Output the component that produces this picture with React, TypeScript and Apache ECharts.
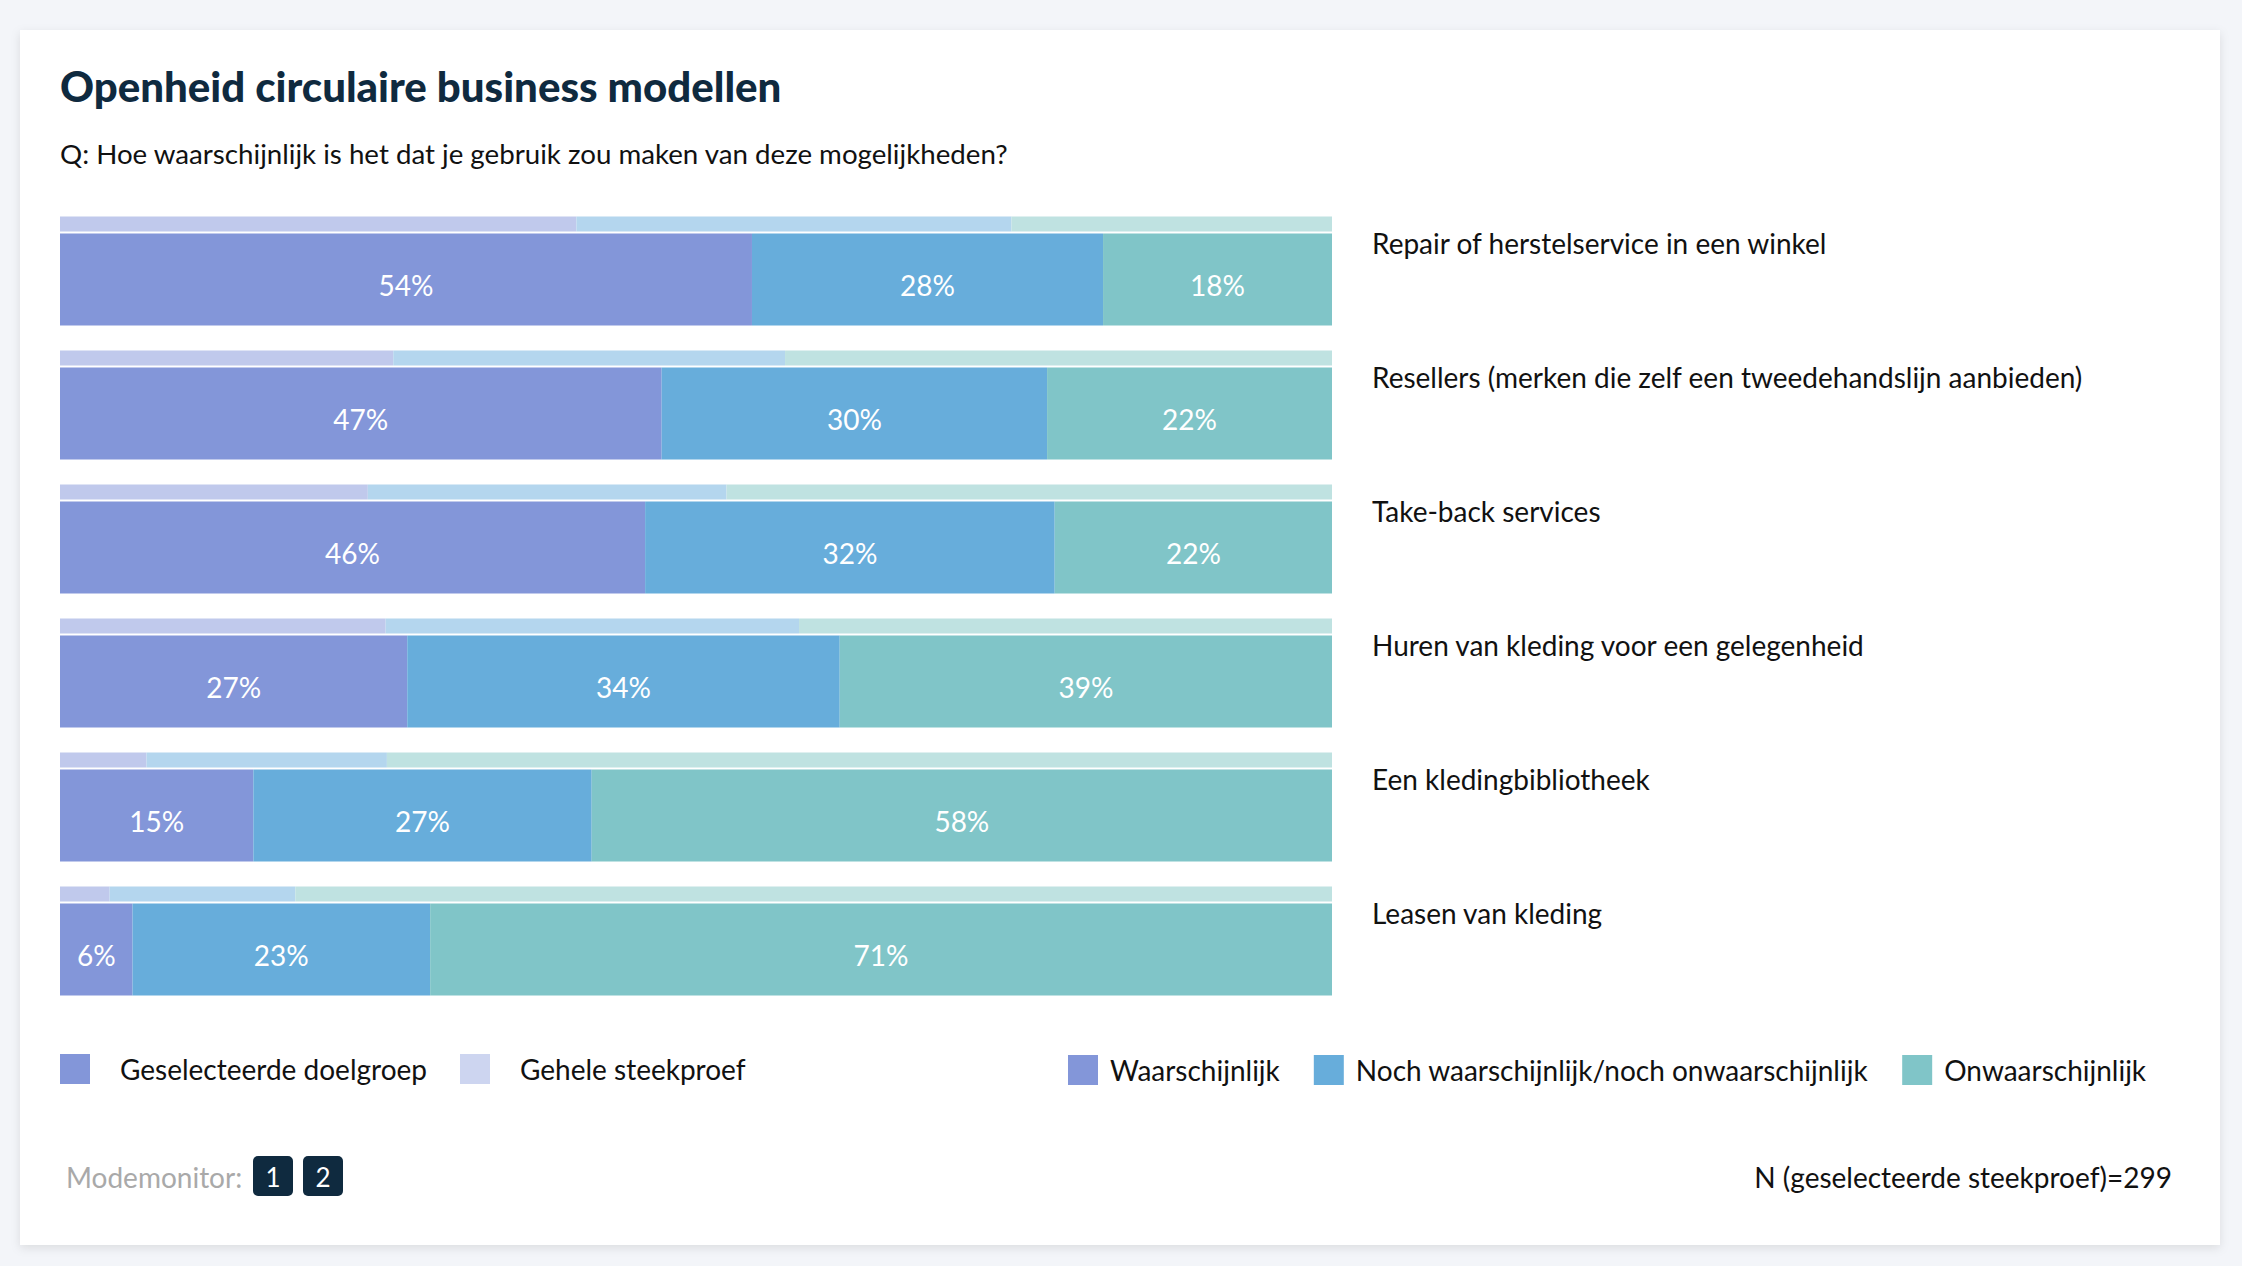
import React, { useEffect, useRef } from "react";
import * as echarts from "echarts";

const categories = [
  "Repair of herstelservice in een winkel",
  "Resellers (merken die zelf een tweedehandslijn aanbieden)",
  "Take-back services",
  "Huren van kleding voor een gelegenheid",
  "Een kledingbibliotheek",
  "Leasen van kleding",
];

const responseNames = [
  "Waarschijnlijk",
  "Noch waarschijnlijk/noch onwaarschijnlijk",
  "Onwaarschijnlijk",
];

// Geselecteerde doelgroep (main bars)
const doelWaarschijnlijk = [54.4, 47.3, 46.0, 27.3, 15.2, 5.7];
const doelNoch = [27.6, 30.3, 32.2, 34.0, 26.6, 23.4];
const doelOnwaarschijnlijk = [18.0, 22.4, 21.8, 38.7, 58.2, 70.9];

// Gehele steekproef (thin bars)
const geheelWaarschijnlijk = [40.6, 26.2, 24.2, 25.6, 6.8, 3.9];
const geheelNoch = [34.2, 30.8, 28.2, 32.5, 18.9, 14.6];
const geheelOnwaarschijnlijk = [25.2, 43.0, 47.6, 41.9, 74.3, 81.5];

const groupLegend = ["Geselecteerde doelgroep", "Gehele steekproef"];
const titleText = "Openheid circulaire business modellen";
const subtitleText = "Q: Hoe waarschijnlijk is het dat je gebruik zou maken van deze mogelijkheden?";
const footerLeft = "Modemonitor:";
const footerBadges = ["1", "2"];
const footerRight = "N (geselecteerde steekproef)=299";

const mainColors = ["#8396d9", "#67addb", "#80c5c8"];
const thinColors = ["#c0c9ec", "#b4d6ee", "#bfe2e1"];
const FONT = 'Lato, "Noto Sans", sans-serif';

export default function App() {
  const ref = useRef<HTMLDivElement>(null);
  useEffect(() => {
    if (!ref.current) return;
    const chart = echarts.init(ref.current, null, { renderer: "svg" });
    const mainData = [doelWaarschijnlijk, doelNoch, doelOnwaarschijnlijk];
    const thinData = [geheelWaarschijnlijk, geheelNoch, geheelOnwaarschijnlijk];

    const thinSeries = thinData.map((d, i) => ({
      type: "bar",
      name: responseNames[i] + " (gehele steekproef)",
      stack: "geheel",
      data: d,
      barWidth: 15,
      barGap: "13.34%",
      itemStyle: { color: thinColors[i] },
      silent: true,
    }));
    const mainSeries = mainData.map((d, i) => ({
      type: "bar",
      name: responseNames[i],
      stack: "doel",
      data: d,
      barWidth: 92,
      barGap: "13.34%",
      itemStyle: { color: mainColors[i] },
      label: {
        show: true,
        position: "inside",
        color: "#ffffff",
        fontSize: 28,
        fontFamily: FONT,
        offset: [0, 5],
        formatter: (p: any) => Math.round(p.value) + "%",
      },
      silent: true,
    }));

    const badgeEls: any[] = [];
    footerBadges.forEach((b, i) => {
      const x = 253 + i * 50;
      badgeEls.push({
        type: "rect",
        shape: { x, y: 1156, width: 40, height: 40, r: 5 },
        style: { fill: "#0f2a3f" },
      });
      badgeEls.push({
        type: "text",
        x: x + 20,
        y: 1177,
        style: {
          text: b,
          fill: "#ffffff",
          fontSize: 26,
          fontFamily: FONT,
          align: "center",
          verticalAlign: "middle",
        },
      });
    });

    chart.setOption({
      animation: false,
      backgroundColor: "#f3f5f9",
      grid: { left: 60, right: 910, top: 204, height: 804, containLabel: false },
      xAxis: { type: "value", min: 0, max: 100, show: false },
      yAxis: {
        type: "category",
        data: categories,
        inverse: true,
        position: "right",
        axisLine: { show: false },
        axisTick: { show: false },
        splitLine: { show: false },
        axisLabel: {
          align: "left",
          margin: 40,
          fontSize: 28,
          color: "#111111",
          fontFamily: FONT,
          verticalAlign: "bottom",
          lineHeight: 57,
        },
      },
      legend: {
        data: responseNames,
        left: 1063,
        top: 1050,
        itemWidth: 30,
        itemHeight: 30,
        itemGap: 34,
        icon: "rect",
        selectedMode: false,
        textStyle: { fontSize: 28, color: "#111111", fontFamily: FONT, padding: [0, 0, 0, 7] },
      },
      graphic: [
        {
          type: "rect",
          z: -10,
          shape: { x: 20, y: 30, width: 2200, height: 1215 },
          style: { fill: "#ffffff", shadowBlur: 10, shadowColor: "rgba(0,0,0,0.10)", shadowOffsetY: 3 },
          silent: true,
        },
        {
          type: "text",
          x: 60,
          y: 86,
          style: {
            text: titleText,
            fill: "#0f2a3f",
            fontSize: 42,
            fontWeight: 900,
            fontFamily: FONT,
            verticalAlign: "middle",
          },
        },
        {
          type: "text",
          x: 60,
          y: 153,
          style: {
            text: subtitleText,
            fill: "#111111",
            fontSize: 27.7,
            fontFamily: FONT,
            verticalAlign: "middle",
          },
        },
        {
          type: "rect",
          shape: { x: 60, y: 1054, width: 30, height: 30 },
          style: { fill: mainColors[0] },
        },
        {
          type: "text",
          x: 120,
          y: 1069,
          style: { text: groupLegend[0], fill: "#111111", fontSize: 28, fontFamily: FONT, verticalAlign: "middle" },
        },
        {
          type: "rect",
          shape: { x: 460, y: 1054, width: 30, height: 30 },
          style: { fill: "#cdd5f0" },
        },
        {
          type: "text",
          x: 520,
          y: 1069,
          style: { text: groupLegend[1], fill: "#111111", fontSize: 28, fontFamily: FONT, verticalAlign: "middle" },
        },
        {
          type: "text",
          x: 66,
          y: 1177,
          style: { text: footerLeft, fill: "#a9a9a9", fontSize: 28, fontFamily: FONT, verticalAlign: "middle" },
        },
        ...badgeEls,
        {
          type: "text",
          x: 2172,
          y: 1177,
          style: {
            text: footerRight,
            fill: "#111111",
            fontSize: 28,
            fontFamily: FONT,
            align: "right",
            verticalAlign: "middle",
          },
        },
      ],
      series: [...thinSeries, ...mainSeries],
    });
    return () => chart.dispose();
  }, []);
  return (
    <div
      ref={ref}
      style={{ position: "fixed", left: 0, top: 0, width: 2242, height: 1266 }}
    />
  );
}
